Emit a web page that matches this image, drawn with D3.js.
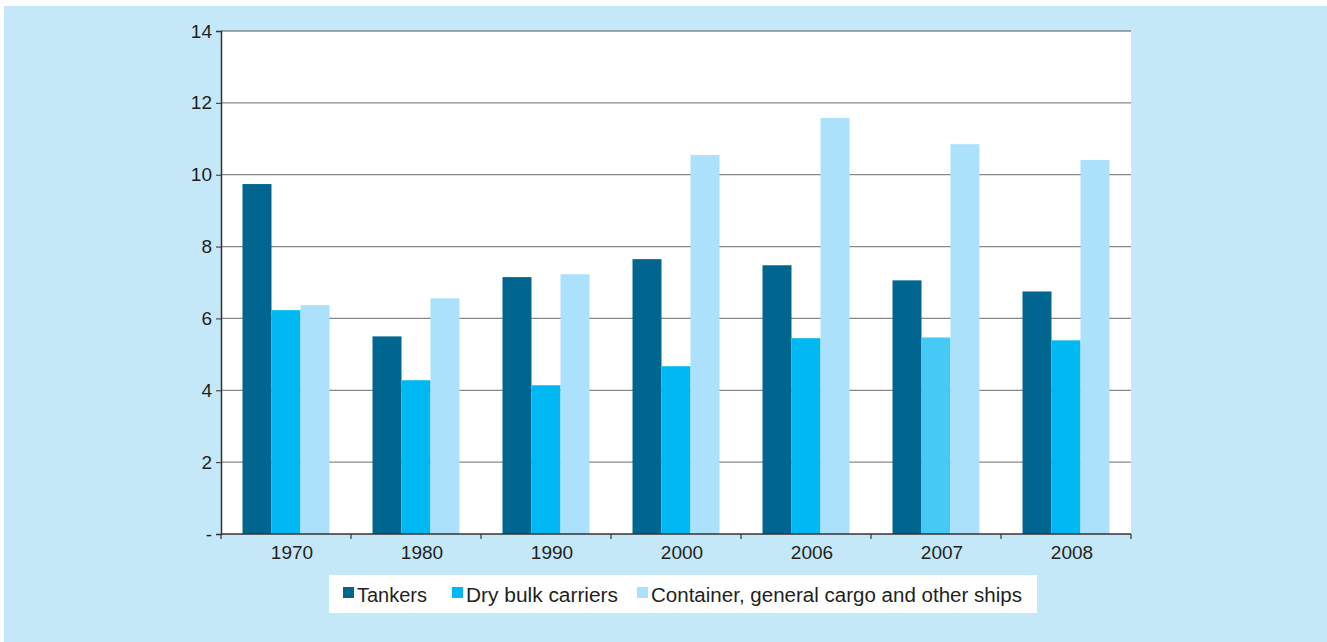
<!DOCTYPE html>
<html>
<head>
<meta charset="utf-8">
<title>Fleet</title>
<script src="https://d3js.org/d3.v7.min.js"></script>
<style>
  body { margin: 0; background: #fff; }
  text { font-family: "Liberation Sans", Arial, sans-serif; fill: #231f20; }
</style>
</head>
<body>
<script>
// data
var years = ["1970", "1980", "1990", "2000", "2006", "2007", "2008"];
var seriesNames = ["Tankers", "Dry bulk carriers", "Container, general cargo and other ships"];
var tankers = [9.74, 5.5, 7.15, 7.65, 7.48, 7.06, 6.75];
var dryBulk = [6.23, 4.28, 4.14, 4.67, 5.45, 5.47, 5.39];
var container = [6.37, 6.56, 7.23, 10.55, 11.58, 10.85, 10.41];
var yTicks = [0, 2, 4, 6, 8, 10, 12, 14];

var colors = ["#006690", "#00b9f2", "#abe1fa"];

var W = 1327, H = 642;
var margin = {top: 31, right: 196, bottom: 108, left: 221};
var width = W - margin.left - margin.right;
var height = H - margin.top - margin.bottom;

var svg = d3.select("body").append("svg")
  .attr("width", W).attr("height", H);

// light blue panel
svg.append("rect").attr("x", 4).attr("y", 6).attr("width", W - 4).attr("height", H - 6)
  .attr("fill", "#c5e8f8");

var g = svg.append("g").attr("transform", "translate(" + margin.left + "," + margin.top + ")");

g.append("rect").attr("width", width).attr("height", height).attr("fill", "#fff");

var x0 = d3.scaleBand().domain(years).range([0, width]).paddingInner(0).paddingOuter(0);
var x1 = d3.scaleBand().domain(d3.range(3)).range([21.5, x0.bandwidth() - 21.5]);
var y = d3.scaleLinear().domain([0, 14]).range([height, 0]);

// gridlines
g.selectAll(".grid").data(yTicks.slice(1)).enter().append("line")
  .attr("x1", 0).attr("x2", width)
  .attr("y1", function(d) { return y(d); }).attr("y2", function(d) { return y(d); })
  .attr("stroke", function(d) { return d == 14 ? "#555" : "#888"; })
  .attr("stroke-width", 1.2);

// bars
var series = [tankers, dryBulk, container];
years.forEach(function(yr, i) {
  series.forEach(function(s, j) {
    var c = colors[j];
    if (j == 1 && yr == "2007") c = "#47c9f5";
    g.append("rect")
      .attr("x", x0(yr) + x1(j))
      .attr("y", y(s[i]))
      .attr("width", x1.bandwidth())
      .attr("height", height - y(s[i]))
      .attr("fill", c);
  });
});

// y axis
var yAxis = d3.axisLeft(y).tickValues(yTicks).tickSize(5).tickPadding(4)
  .tickFormat(function(d) { return d == 0 ? "-" : d; });
var ya = g.append("g").call(yAxis);
ya.select(".domain").attr("stroke", "#333").attr("stroke-width", 1.5);
ya.selectAll(".tick line").attr("stroke", "#333");
ya.selectAll("text").style("font-size", "19px").attr("fill", "#231f20")
  .style("font-family", "Liberation Sans, Arial, sans-serif");

// x axis
var xa = g.append("g").attr("transform", "translate(0," + height + ")");
xa.append("line").attr("x1", 0).attr("x2", width).attr("stroke", "#333").attr("stroke-width", 1.5);
xa.selectAll(".bd").data(d3.range(years.length + 1)).enter().append("line")
  .attr("x1", function(d) { return d * x0.step(); }).attr("x2", function(d) { return d * x0.step(); })
  .attr("y1", 0).attr("y2", 5).attr("stroke", "#333").attr("stroke-width", 1.2);
xa.selectAll(".lab").data(years).enter().append("text")
  .attr("x", function(d) { return x0(d) + x0.bandwidth() / 2 + 6; })
  .attr("y", 25).attr("text-anchor", "middle")
  .style("font-size", "19px").text(function(d) { return d; });

// legend
var leg = svg.append("g").attr("transform", "translate(329,575)");
leg.append("rect").attr("width", 708).attr("height", 38).attr("fill", "#fff");
var legX = [14, 123, 308];
var legW = [70, 152, 371];
seriesNames.forEach(function(n, i) {
  leg.append("rect").attr("x", legX[i]).attr("y", 12).attr("width", 11).attr("height", 11).attr("fill", colors[i]);
  leg.append("text").attr("x", legX[i] + 14).attr("y", 27).style("font-size", "20px")
    .attr("textLength", legW[i]).attr("lengthAdjust", "spacingAndGlyphs").text(n);
});
</script>
</body>
</html>
